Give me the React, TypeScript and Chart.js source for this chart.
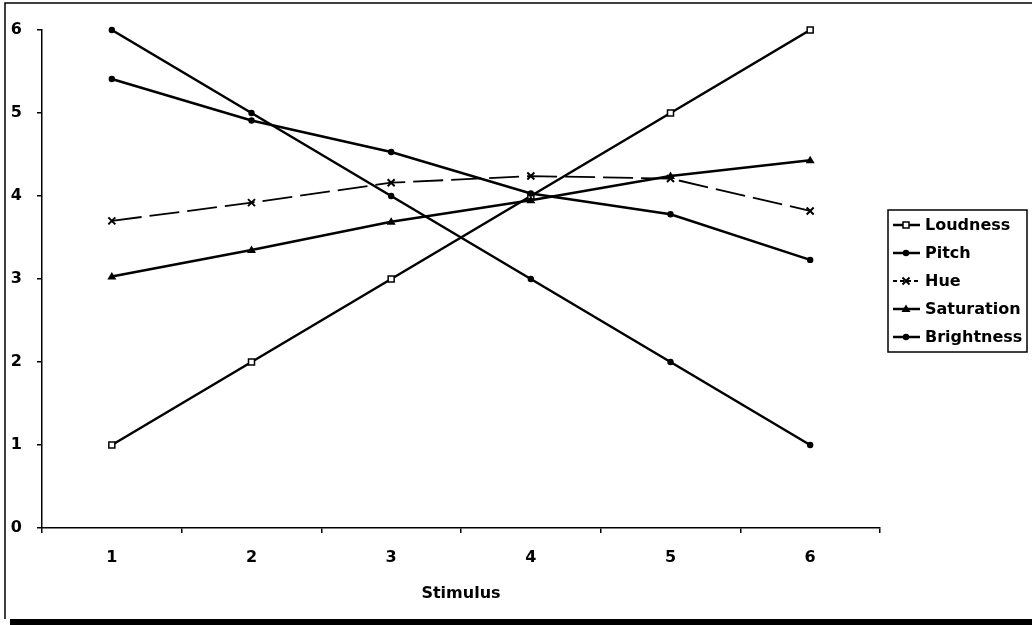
import React, { useEffect, useRef } from "react";
import { Chart, registerables } from "chart.js";

Chart.register(...registerables);

// Stimulus numbers along the horizontal axis
const stimuli = ["1", "2", "3", "4", "5", "6"];

// Mean ratings for each dimension
const loudness = [1, 2, 3, 4, 5, 6];
const pitch = [5.41, 4.91, 4.53, 4.03, 3.78, 3.23];
const hue = [3.7, 3.92, 4.16, 4.24, 4.21, 3.82];
const saturation = [3.03, 3.35, 3.69, 3.95, 4.24, 4.43];
const brightness = [6, 5, 4, 3, 2, 1];

const seriesNames = ["Loudness", "Pitch", "Hue", "Saturation", "Brightness"];

const FONT = "DejaVu Sans";

type Marker = "square" | "dot" | "cross" | "triangle";

const markers: Marker[] = ["square", "dot", "cross", "triangle", "dot"];

function drawMarker(ctx: CanvasRenderingContext2D, kind: Marker, x: number, y: number) {
  ctx.save();
  ctx.strokeStyle = "#000";
  ctx.fillStyle = "#000";
  ctx.setLineDash([]);
  ctx.lineWidth = 1.5;
  ctx.beginPath();
  if (kind === "square") {
    ctx.fillStyle = "#fff";
    ctx.rect(x - 3, y - 3, 6, 6);
    ctx.fill();
    ctx.stroke();
  } else if (kind === "dot") {
    ctx.arc(x, y, 3.2, 0, Math.PI * 2);
    ctx.fill();
  } else if (kind === "cross") {
    ctx.lineWidth = 2;
    ctx.moveTo(x - 3.5, y - 3.5);
    ctx.lineTo(x + 3.5, y + 3.5);
    ctx.moveTo(x + 3.5, y - 3.5);
    ctx.lineTo(x - 3.5, y + 3.5);
    ctx.stroke();
  } else {
    ctx.moveTo(x, y - 4.5);
    ctx.lineTo(x + 4.5, y + 3);
    ctx.lineTo(x - 4.5, y + 3);
    ctx.closePath();
    ctx.fill();
  }
  ctx.restore();
}

// Page frame, point markers and the boxed legend at the right
const framePlugin = {
  id: "frame",
  beforeDraw(chart: any) {
    const { ctx, width, height } = chart;
    ctx.save();
    ctx.fillStyle = "#fff";
    ctx.fillRect(0, 0, width, height);
    ctx.strokeStyle = "#000";
    ctx.lineWidth = 1.5;
    ctx.beginPath();
    ctx.moveTo(5, height - 6);
    ctx.lineTo(5, 3);
    ctx.lineTo(width, 3);
    ctx.stroke();
    ctx.fillStyle = "#000";
    ctx.fillRect(10, height - 6, width - 10, 6);
    ctx.restore();
  },
  afterDatasetsDraw(chart: any) {
    const { ctx } = chart;
    chart.data.datasets.forEach((ds: any, i: number) => {
      const meta = chart.getDatasetMeta(i);
      meta.data.forEach((pt: any) => drawMarker(ctx, markers[i], pt.x, pt.y));
    });
  },
  afterDraw(chart: any) {
    const { ctx } = chart;
    const left = 888;
    const top = 210;
    const right = 1027;
    const bottom = 352;
    ctx.save();
    ctx.strokeStyle = "#000";
    ctx.lineWidth = 1.5;
    ctx.strokeRect(left, top, right - left, bottom - top);
    ctx.font = `bold 16px "${FONT}"`;
    ctx.textBaseline = "middle";
    ctx.fillStyle = "#000";
    const rowH = 28;
    chart.data.datasets.forEach((ds: any, i: number) => {
      const y = top + 15 + i * rowH;
      ctx.save();
      ctx.lineWidth = ds.borderWidth;
      ctx.setLineDash(ds.borderDash && ds.borderDash.length ? [4, 3] : []);
      ctx.beginPath();
      ctx.moveTo(893, y);
      ctx.lineTo(920, y);
      ctx.stroke();
      ctx.restore();
      drawMarker(ctx, markers[i], 906, y);
      ctx.fillText(ds.label, 925, y + 1);
    });
    ctx.restore();
  },
};

export default function App() {
  const canvasRef = useRef<HTMLCanvasElement | null>(null);

  useEffect(() => {
    const canvas = canvasRef.current;
    if (!canvas) return;
    const values = [loudness, pitch, hue, saturation, brightness];
    const chart = new Chart(canvas, {
      type: "line",
      data: {
        labels: stimuli,
        datasets: values.map((v, i) => ({
          label: seriesNames[i],
          data: v,
          borderColor: "#000",
          backgroundColor: "#000",
          borderWidth: i === 2 ? 1.8 : 2.5,
          borderDash: i === 2 ? [30, 8] : [],
          pointRadius: 0,
          tension: 0,
          fill: false,
        })),
      },
      options: {
        responsive: false,
        animation: false,
        events: [],
        layout: { padding: { left: 0, right: 152, top: 30, bottom: 0 } },
        plugins: {
          legend: { display: false },
          tooltip: { enabled: false },
        },
        scales: {
          x: {
            offset: true,
            afterFit(scale: any) {
              scale.height = 97;
            },
            grid: {
              offset: true,
              drawOnChartArea: false,
              tickLength: 5,
              color: "#000",
              lineWidth: 1.5,
            },
            border: { color: "#000", width: 1.5 },
            ticks: {
              color: "#000",
              padding: 15,
              font: { family: FONT, size: 16, weight: "bold" },
            },
            title: {
              display: true,
              text: "Stimulus",
              color: "#000",
              padding: { top: 0, bottom: 22 },
              font: { family: FONT, size: 16, weight: "bold" },
            },
          },
          y: {
            min: 0,
            max: 6,
            afterFit(scale: any) {
              scale.width = 42;
            },
            grid: {
              drawOnChartArea: false,
              tickLength: 5,
              color: "#000",
              lineWidth: 1.5,
            },
            border: { color: "#000", width: 1.5 },
            ticks: {
              stepSize: 1,
              color: "#000",
              padding: 15,
              font: { family: FONT, size: 16, weight: "bold" },
            },
          },
        },
      },
      plugins: [framePlugin],
    });
    return () => chart.destroy();
  }, []);

  return (
    <div style={{ position: "fixed", left: 0, top: 0, width: 1032, height: 625, background: "#fff" }}>
      <canvas ref={canvasRef} width={1032} height={625} style={{ display: "block" }} />
    </div>
  );
}
